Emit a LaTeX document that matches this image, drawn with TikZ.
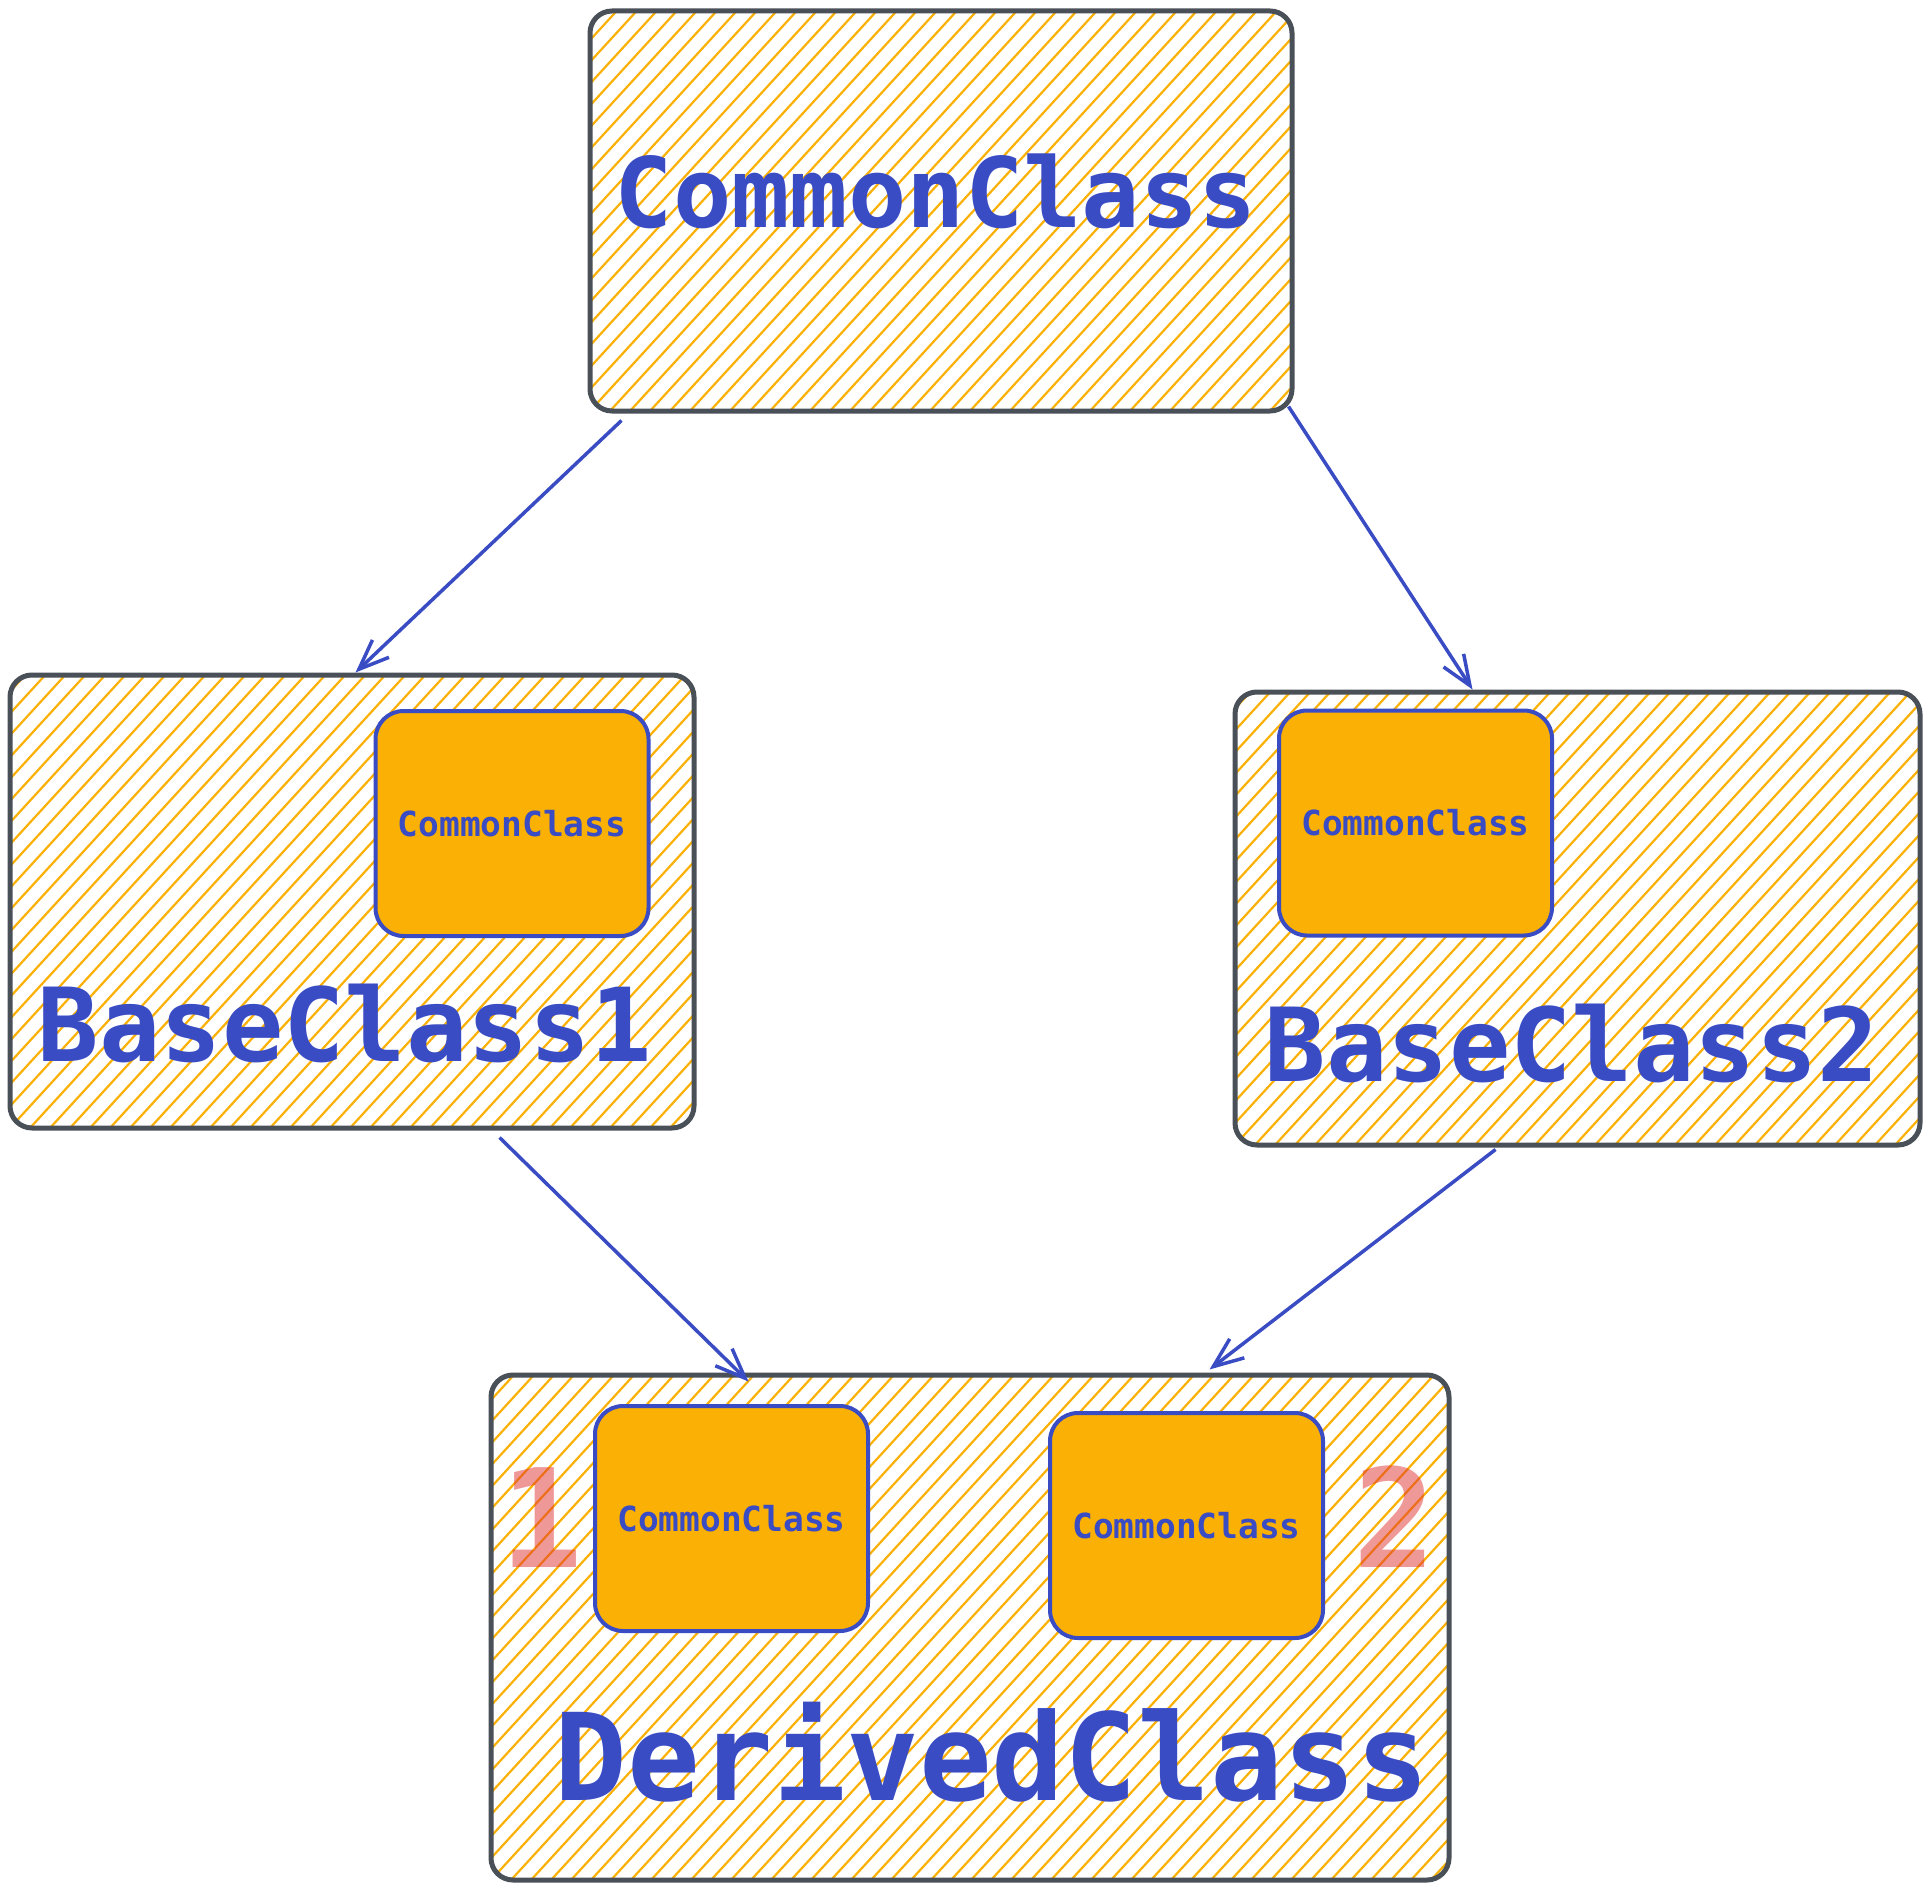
\documentclass[tikz,border=0pt]{standalone}
\usepackage{fontspec}
\setmonofont{DejaVu Sans Mono}
\usetikzlibrary{arrows.meta}
\definecolor{inkblue}{HTML}{3A4CC4}
\definecolor{framegray}{HTML}{495057}
\definecolor{hatchorange}{HTML}{FAB005}
\definecolor{numred}{HTML}{E03131}
\tikzset{
  hatchline/.style={hatchorange, line width=2.2pt},
  classbox/.style={draw=framegray, line width=5pt, rounded corners=22pt, inner sep=0pt,
    path picture={\foreach \d in {-1200,-1180,...,1000}
      \draw[hatchline] ([xshift=\d]path picture bounding box.south west) -- ++(1100,-1200);}},
  membox/.style={draw=inkblue, fill=hatchorange, line width=4pt, rounded corners=28pt,
    minimum width=273pt, minimum height=225pt, inner sep=0pt, text=inkblue,
    font=\ttfamily\bfseries\fontsize{34.5}{40}\selectfont},
  title/.style={anchor=base, inner sep=0pt, text=inkblue},
  copyno/.style={anchor=base, inner sep=0pt, text=numred, text opacity=0.5,
    font=\ttfamily\bfseries\fontsize{137}{140}\selectfont},
  link/.style={draw=inkblue, line width=3.5pt,
    -{Straight Barb[length=30pt, width=24pt, line width=3.5pt]}}
}
\begin{document}
\begin{tikzpicture}[x=1pt, y=-1pt]
  \useasboundingbox (0,0) rectangle (1930,1889);
  % the four classes
  \node[classbox, minimum width=702pt, minimum height=400pt] (common) at (941,211) {};
  \node[classbox, minimum width=684pt, minimum height=453pt] (base1) at (352,901.5) {};
  \node[classbox, minimum width=685pt, minimum height=453pt] (base2) at (1577.5,918.5) {};
  \node[classbox, minimum width=958pt, minimum height=505pt] (derived) at (970,1627.5) {};
  % embedded CommonClass parts
  \node[membox] (part1) at (512,823.5) {CommonClass};
  \node[membox] (part2) at (1415.5,823) {CommonClass};
  \node[membox] (part3) at (731.5,1518.5) {CommonClass};
  \node[membox] (part4) at (1186.5,1525.5) {CommonClass};
  % class names
  \node[title, font=\ttfamily\bfseries\fontsize{97}{100}\selectfont] (commonname) at (936,228) {CommonClass};
  \node[title, font=\ttfamily\bfseries\fontsize{102}{105}\selectfont] (base1name) at (345,1061) {BaseClass1};
  \node[title, font=\ttfamily\bfseries\fontsize{102}{105}\selectfont] (base2name) at (1572,1081) {BaseClass2};
  \node[title, font=\ttfamily\bfseries\fontsize{121}{125}\selectfont] (derivedname) at (992,1800) {DerivedClass};
  \node[copyno] (no1) at (542,1567) {1};
  \node[copyno] (no2) at (1395,1567) {2};
  % inheritance
  \draw[link] ([shift={(34,7)}]common.south west) -- ([shift={(348,0)}]base1.north west);
  \draw[link] ([shift={(-6,-7)}]common.south east) -- ([shift={(240,0)}]base2.north west);
  \draw[link] ([shift={(492,7)}]base1.south west) -- ([shift={(260,9)}]derived.north west);
  \draw[link] ([shift={(263,2)}]base2.south west) -- ([shift={(721,-3)}]derived.north west);
\end{tikzpicture}
\end{document}
